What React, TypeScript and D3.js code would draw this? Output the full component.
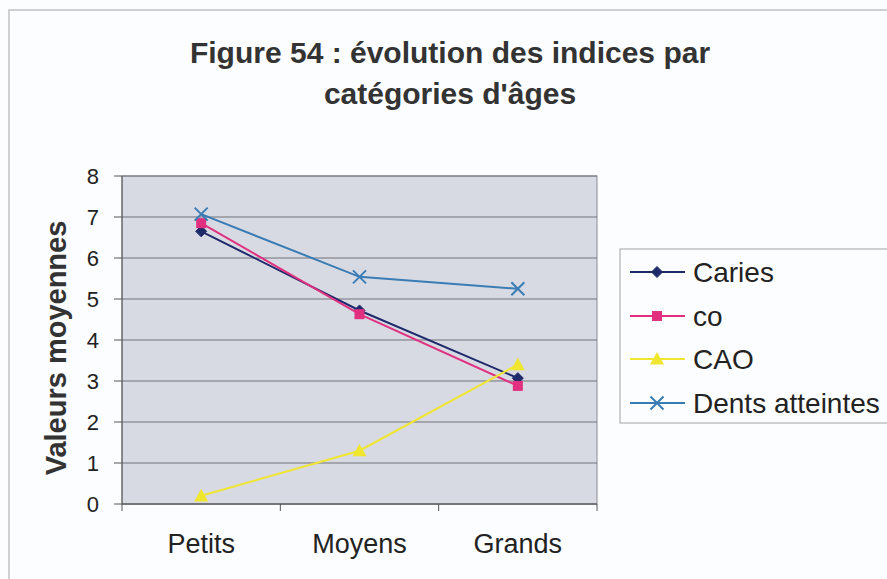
import React from "react";
import * as d3 from "d3";

const categories = ["Petits", "Moyens", "Grands"];
const seriesNames = ["Caries", "co", "CAO", "Dents atteintes"];
const caries = [6.65, 4.72, 3.07];
const co = [6.85, 4.63, 2.88];
const cao = [0.2, 1.3, 3.4];
const dents = [7.07, 5.54, 5.25];
const yTicks = [0, 1, 2, 3, 4, 5, 6, 7, 8];

const colors = ["#1f2a6b", "#e0307f", "#f0e630", "#3a7cb4"];
const symbols = ["diamond", "square", "triangle", "x"];

const W = 887, H = 579;
const plot = { left: 122, right: 597, top: 176, bottom: 504 };

function Marker({ type, x, y, color }: { type: string; x: number; y: number; color: string }) {
  if (type === "diamond") {
    const s = 5.5;
    return <path d={`M${x},${y - s}L${x + s},${y}L${x},${y + s}L${x - s},${y}Z`} fill={color} stroke={color} />;
  }
  if (type === "square") {
    const s = 5;
    return <rect x={x - s} y={y - s} width={2 * s} height={2 * s} fill={color} />;
  }
  if (type === "triangle") {
    const s = 7;
    return <path d={`M${x},${y - s}L${x + s},${y + s * 0.8}L${x - s},${y + s * 0.8}Z`} fill={color} />;
  }
  const s = 6.5;
  return <path d={`M${x - s},${y - s}L${x + s},${y + s}M${x - s},${y + s}L${x + s},${y - s}`} stroke={color} strokeWidth={2} />;
}

export default function App() {
  const x = d3.scaleBand().domain(categories).range([plot.left, plot.right]);
  const y = d3.scaleLinear().domain([0, 8]).range([plot.bottom, plot.top]);
  const data = [caries, co, cao, dents];
  const line = d3.line<number>().x((_, i) => x(categories[i])! + x.bandwidth() / 2).y((d) => y(d));
  const font = "Liberation Sans, Arial, sans-serif";
  const legendY = [272, 316, 359, 403];

  return (
    <svg width={W} height={H} style={{ position: "absolute", left: 0, top: 0 }} fontFamily={font}>
      <rect x={0} y={0} width={W} height={H} fill="#fcfdfe" />
      <path d={`M9,${H}L9,10L${W},10`} fill="none" stroke="#bfc2c6" strokeWidth={1.5} />
      <text x={450} y={63} textAnchor="middle" fontSize={30} fontWeight="bold" fill="#333">
        Figure 54 : évolution des indices par
      </text>
      <text x={450} y={104} textAnchor="middle" fontSize={30} fontWeight="bold" fill="#333">
        catégories d'âges
      </text>

      <rect x={plot.left} y={plot.top} width={plot.right - plot.left} height={plot.bottom - plot.top} fill="#d8dae3" stroke="#8a8c92" />
      {yTicks.map((t) => (
        <g key={t}>
          <line x1={plot.left} x2={plot.right} y1={y(t)} y2={y(t)} stroke="#707278" strokeWidth={1} />
          <line x1={plot.left - 8} x2={plot.left} y1={y(t)} y2={y(t)} stroke="#555" />
          <text x={99} y={y(t) + 8} textAnchor="end" fontSize={22} fill="#222">{t}</text>
        </g>
      ))}
      <line x1={plot.left} x2={plot.left} y1={plot.top} y2={plot.bottom} stroke="#555" />
      <line x1={plot.left} x2={plot.right} y1={plot.bottom} y2={plot.bottom} stroke="#555" />
      {[0, 1, 2, 3].map((i) => {
        const xx = plot.left + i * x.bandwidth();
        return <line key={i} x1={xx} x2={xx} y1={plot.bottom} y2={plot.bottom + 7} stroke="#555" />;
      })}
      {categories.map((c) => (
        <text key={c} x={x(c)! + x.bandwidth() / 2} y={553} textAnchor="middle" fontSize={27} fill="#222">{c}</text>
      ))}
      <text transform={`translate(66,348) rotate(-90)`} textAnchor="middle" fontSize={29} fontWeight="bold" fill="#333">
        Valeurs moyennes
      </text>

      {data.map((vals, si) => (
        <g key={si}>
          <path d={line(vals)!} fill="none" stroke={colors[si]} strokeWidth={2} />
          {vals.map((v, i) => (
            <Marker key={i} type={symbols[si]} x={x(categories[i])! + x.bandwidth() / 2} y={y(v)} color={colors[si]} />
          ))}
        </g>
      ))}

      <rect x={620} y={249} width={280} height={174} fill="#fcfdfe" stroke="#a0a2a6" />
      {seriesNames.map((n, i) => (
        <g key={n}>
          <line x1={630} x2={685} y1={legendY[i]} y2={legendY[i]} stroke={colors[i]} strokeWidth={2} />
          <Marker type={symbols[i]} x={657} y={legendY[i]} color={colors[i]} />
          <text x={693} y={legendY[i] + 10} fontSize={28} fill="#222">{n}</text>
        </g>
      ))}
    </svg>
  );
}
